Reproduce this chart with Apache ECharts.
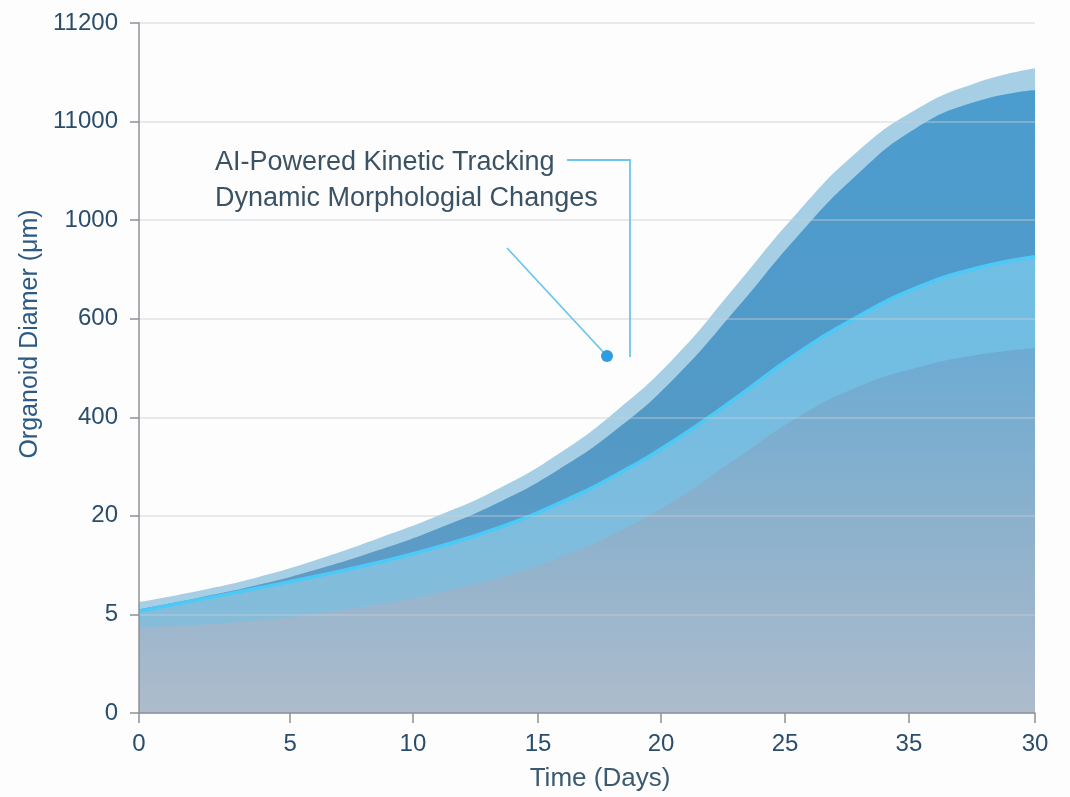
<!DOCTYPE html>
<html>
<head>
<meta charset="utf-8">
<script src="https://cdn.jsdelivr.net/npm/echarts@6/dist/echarts.min.js"></script>
<style>
html,body{margin:0;padding:0;background:#fdfdfd;}
#chart{width:1070px;height:797px;}
</style>
</head>
<body>
<div id="chart"></div>
<script>
// Tick labels as printed on the reference (axes are label-indexed)
var yTickLabels = ['0', '5', '20', '400', '600', '1000', '11000', '11200'];
var xTickLabels = ['0', '5', '10', '15', '20', '25', '35', '30'];
// positions of x tick labels along the time scale (0..30)
var xTickPos = [0, 5.06, 9.17, 13.36, 17.48, 21.63, 25.78, 30];

// sample positions on the time scale
var timePoints = [0, 2, 4, 6, 8, 10, 12, 14, 16, 18, 20, 22, 24, 26, 28, 30];

// values in y-tick index units (0 = "0", 1 = "5", ... 7 = "11200")
var outerEnvelope = [1.125, 1.24, 1.38, 1.56, 1.77, 2.00, 2.27, 2.62, 3.07, 3.63, 4.34, 5.06, 5.68, 6.12, 6.39, 6.54];
var upperBand     = [1.054, 1.17, 1.30, 1.46, 1.65, 1.87, 2.13, 2.46, 2.88, 3.42, 4.10, 4.82, 5.45, 5.93, 6.20, 6.32];
var trackedMean   = [1.033, 1.150, 1.268, 1.392, 1.527, 1.685, 1.875, 2.120, 2.420, 2.780, 3.200, 3.640, 4.010, 4.310, 4.510, 4.630];
var lowerBand     = [0.871, 0.895, 0.94, 1.01, 1.10, 1.22, 1.37, 1.57, 1.83, 2.17, 2.58, 2.99, 3.30, 3.50, 3.63, 3.70];

function pairs(vals) {
  return timePoints.map(function (t, i) { return [t, vals[i]]; });
}

var chart = echarts.init(document.getElementById('chart'));
var FONT = 'Liberation Sans, Arial, sans-serif';

function grad(stops) {
  return {
    type: 'linear', x: 0, y: 23, x2: 0, y2: 714, global: true,
    colorStops: stops
  };
}

var option = {
  backgroundColor: '#fdfdfd',
  animation: false,
  grid: { left: 139, right: 35, top: 23, bottom: 83 },
  xAxis: {
    type: 'value',
    min: 0, max: 30,
    name: 'Time (Days)',
    nameLocation: 'middle',
    nameGap: 53,
    nameTextStyle: { fontFamily: FONT, fontSize: 26, color: '#3a5a72', padding: [0, 0, 0, 26] },
    axisLine: { show: true, lineStyle: { color: '#8c9096', width: 1.5 } },
    axisTick: { show: true, length: 10, lineStyle: { color: '#8c9096', width: 1.5 }, customValues: xTickPos },
    axisLabel: {
      fontFamily: FONT, fontSize: 24, color: '#2a4d6c', margin: 19,
      customValues: xTickPos,
      formatter: function (v) {
        for (var i = 0; i < xTickPos.length; i++) { if (Math.abs(xTickPos[i] - v) < 1e-6) return xTickLabels[i]; }
        return '';
      }
    },
    splitLine: { show: false },
    z: 5
  },
  yAxis: {
    type: 'value',
    min: 0, max: 7, interval: 1,
    name: 'Organoid Diamer (μm)',
    nameLocation: 'middle',
    nameGap: 79,
    nameTextStyle: { fontFamily: FONT, fontSize: 25, color: '#2d5a84', padding: [0, 0, 0, 68] },
    axisLine: { show: true, lineStyle: { color: '#8c9096', width: 1.5 } },
    axisTick: { show: true, length: 9, lineStyle: { color: '#8c9096', width: 1.5 } },
    axisLabel: {
      fontFamily: FONT, fontSize: 24, color: '#2a4d6c', margin: 21,
      formatter: function (v) { return yTickLabels[Math.round(v)]; }
    },
    splitLine: { show: true, lineStyle: { color: 'rgba(200,206,214,0.55)', width: 1.5 } },
    z: 5
  },
  series: [
    {
      name: 'Outer envelope', type: 'line', data: pairs(outerEnvelope), smooth: 0.5,
      showSymbol: false, lineStyle: { width: 0 }, z: 1,
      areaStyle: { color: '#a6cfe6', opacity: 1 }
    },
    {
      name: 'Upper band', type: 'line', data: pairs(upperBand), smooth: 0.5,
      showSymbol: false, lineStyle: { width: 0 }, z: 2,
      areaStyle: { opacity: 1, color: grad([{ offset: 0, color: '#4a9dd0' }, { offset: 0.6, color: '#5399c6' }, { offset: 1, color: '#6a9fc6' }]) }
    },
    {
      name: 'Tracked mean', type: 'line', data: pairs(trackedMean), smooth: 0.5,
      showSymbol: false, z: 3,
      lineStyle: { width: 3.5, color: '#4ccaf7' },
      areaStyle: { opacity: 1, color: grad([{ offset: 0, color: '#6ec2e8' }, { offset: 0.5, color: '#72bde2' }, { offset: 1, color: '#8cbcd8' }]) }
    },
    {
      name: 'Lower band', type: 'line', data: pairs(lowerBand), smooth: 0.5,
      showSymbol: false, lineStyle: { width: 0 }, z: 4,
      areaStyle: { opacity: 1, color: grad([{ offset: 0, color: '#64aad6' }, { offset: 0.45, color: '#6aaad3' }, { offset: 0.75, color: '#8fb2cc' }, { offset: 1, color: '#adbccc' }]) }
    }
  ],
  graphic: [
    { type: 'text', left: 215, top: 149, z: 10,
      style: { text: 'AI-Powered Kinetic Tracking', fontFamily: FONT, fontSize: 27, fill: '#3b5264' } },
    { type: 'text', left: 215, top: 185, z: 10,
      style: { text: 'Dynamic Morphologial Changes', fontFamily: FONT, fontSize: 27, fill: '#3b5264' } },
    { type: 'polyline', z: 10,
      shape: { points: [[567, 160], [630, 160], [630, 357]] },
      style: { stroke: '#6cc6ee', lineWidth: 1.8, fill: null } },
    { type: 'line', z: 10,
      shape: { x1: 507, y1: 248, x2: 606, y2: 355 },
      style: { stroke: '#6cc6ee', lineWidth: 1.8 } },
    { type: 'circle', z: 11,
      shape: { cx: 607, cy: 356, r: 6 },
      style: { fill: '#2f9ce0' } }
  ]
};
chart.setOption(option);
</script>
</body>
</html>
